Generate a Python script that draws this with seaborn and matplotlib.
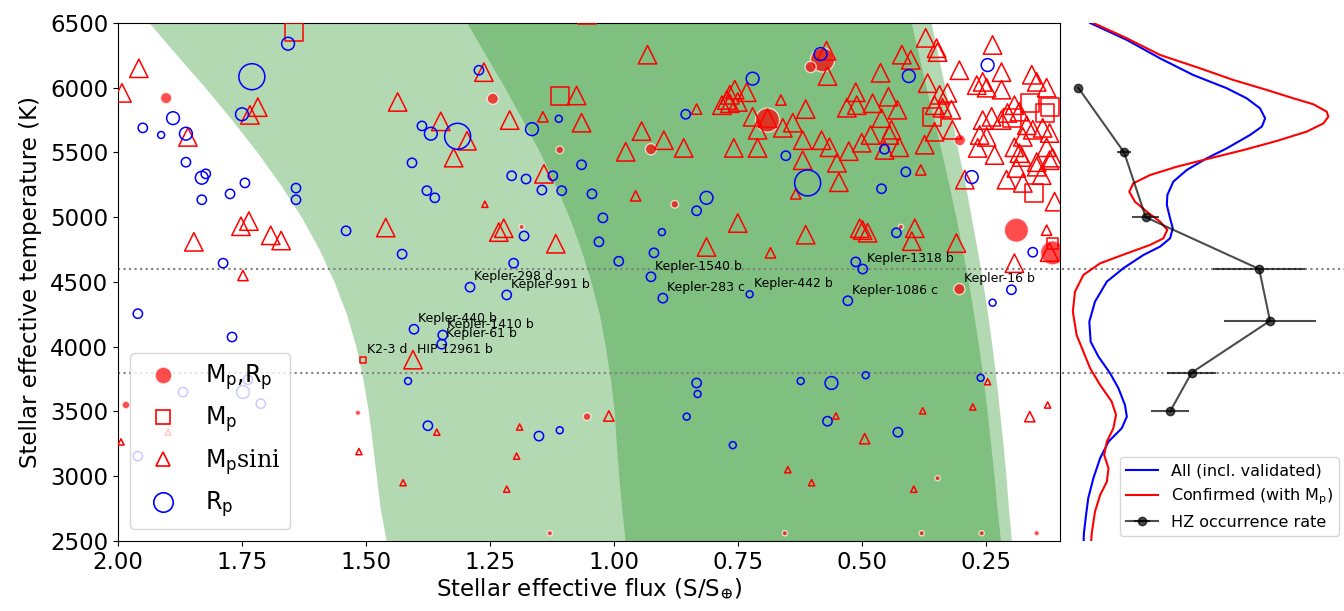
import matplotlib
matplotlib.use("Agg")
import matplotlib.pyplot as plt
from matplotlib.lines import Line2D
import seaborn as sns

# --- Habitable zone boundaries (flux vs Teff) ---
hz_teff = [2500, 2750, 3000, 3250, 3500, 3750, 4000, 4250, 4500,
           4750, 5000, 5250, 5500, 5750, 6000, 6250, 6500]
recent_venus = [1.459, 1.471, 1.479, 1.487, 1.495, 1.506, 1.520, 1.539, 1.564,
                1.594, 1.630, 1.672, 1.719, 1.770, 1.824, 1.881, 1.937]
runaway_gh = [0.977, 0.984, 0.990, 0.995, 0.999, 1.007, 1.017, 1.029, 1.046,
              1.066, 1.090, 1.118, 1.149, 1.184, 1.220, 1.258, 1.296]
max_gh = [0.220, 0.227, 0.233, 0.240, 0.247, 0.255, 0.264, 0.274, 0.285,
          0.297, 0.310, 0.324, 0.339, 0.354, 0.370, 0.385, 0.400]
early_mars = [0.198, 0.204, 0.209, 0.215, 0.222, 0.229, 0.237, 0.246, 0.256,
              0.267, 0.279, 0.291, 0.305, 0.318, 0.332, 0.346, 0.360]

# --- Planets with Mp sin i (open triangles) ---
tri_flux = [1.958, 1.992, 1.859, 1.847, 1.752, 1.736, 1.692, 1.671, 1.748, 1.734,
            1.718, 1.460, 1.436, 1.349, 1.994, 1.899, 1.405, 1.514, 1.425, 1.357,
            1.262, 1.075, 1.296, 1.323, 1.210, 1.143, 1.065, 0.944, 0.976, 1.141,
            0.956, 1.260, 1.232, 1.222, 1.117, 0.932, 0.571, 0.569, 0.462, 0.833,
            0.782, 0.766, 0.756, 0.732, 0.766, 0.750, 0.772, 0.663, 0.613, 0.690,
            0.720, 0.710, 0.659, 0.639, 0.530, 0.512, 0.510, 0.478, 0.446, 0.460,
            0.428, 0.619, 0.581, 0.565, 0.526, 0.500, 0.482, 0.444, 0.454, 0.550,
            0.619, 0.546, 0.899, 0.859, 0.758, 0.710, 0.633, 0.750, 0.613, 0.504,
            0.488, 0.498, 0.813, 0.684, 0.371, 0.349, 0.347, 0.419, 0.401, 0.367,
            0.440, 0.424, 0.373, 0.343, 0.327, 0.353, 0.337, 0.319, 0.353, 0.317,
            0.236, 0.303, 0.218, 0.268, 0.256, 0.248, 0.218, 0.157, 0.147, 0.127,
            0.192, 0.182, 0.206, 0.256, 0.238, 0.218, 0.262, 0.248, 0.266, 0.232,
            0.167, 0.155, 0.175, 0.135, 0.121, 0.182, 0.147, 0.115, 0.127, 0.192,
            0.208, 0.175, 0.188, 0.177, 0.147, 0.121, 0.137, 0.292, 0.111, 0.381,
            0.127, 0.121, 0.192, 0.393, 0.399, 0.309, 0.246, 0.377, 0.276, 0.161,
            0.125, 0.494, 0.395, 1.010, 0.552, 0.649, 0.601, 1.190, 1.196, 1.216]
tri_teff = [6150, 5960, 5620, 4810, 4930, 4970, 4860, 4820, 4550, 5790,
            5850, 4920, 5890, 5740, 3265, 3340, 3900, 3190, 2950, 3340,
            6120, 5940, 5590, 5460, 5750, 5775, 5730, 5665, 5505, 5335,
            5165, 5100, 4885, 4915, 4795, 6255, 6285, 6090, 6115, 5835,
            5865, 5945, 5985, 5965, 5880, 5890, 5905, 5905, 5835, 5765,
            5775, 5675, 5690, 5730, 5845, 5965, 5865, 5880, 5930, 5765,
            5830, 5595, 5595, 5540, 5510, 5575, 5635, 5635, 5520, 5420,
            5440, 5270, 5595, 5535, 5535, 5535, 5180, 4955, 4865, 4915,
            4880, 4900, 4770, 4725, 6385, 6305, 6275, 6255, 6215, 6035,
            5675, 5540, 5560, 5945, 5960, 5865, 5845, 5830, 5660, 5675,
            6330, 6135, 6120, 6020, 6045, 6000, 5985, 6100, 6045, 6000,
            5865, 5815, 5805, 5750, 5775, 5750, 5635, 5620, 5535, 5480,
            5710, 5675, 5620, 5690, 5650, 5495, 5425, 5460, 5540, 5540,
            5290, 5265, 5380, 5465, 5390, 5440, 5325, 5290, 5120, 5365,
            4900, 4730, 4645, 4915, 4815, 4800, 3730, 3505, 3535, 3460,
            3550, 3290, 2900, 3465, 3465, 3050, 2950, 3380, 3155, 2900]
tri_size = [3, 3, 3, 3, 3, 3, 3, 3, 2, 3,
            3, 3, 3, 3, 1, 1, 3, 1, 1, 1,
            3, 3, 3, 3, 3, 2, 3, 3, 3, 3,
            2, 1, 3, 3, 3, 3, 3, 3, 3, 2,
            3, 3, 3, 3, 3, 3, 3, 2, 3, 3,
            3, 3, 3, 3, 3, 3, 3, 3, 3, 3,
            3, 3, 3, 3, 3, 3, 3, 3, 3, 3,
            3, 3, 3, 3, 3, 3, 2, 3, 3, 3,
            3, 3, 3, 2, 3, 3, 3, 3, 3, 3,
            3, 3, 3, 3, 3, 3, 3, 3, 3, 3,
            3, 3, 3, 3, 3, 3, 3, 3, 3, 3,
            3, 3, 3, 3, 3, 3, 3, 3, 3, 3,
            3, 3, 3, 3, 3, 3, 3, 3, 3, 3,
            3, 3, 3, 3, 3, 3, 3, 3, 3, 2,
            2, 3, 3, 3, 3, 3, 1, 1, 1, 2,
            1, 2, 1, 2, 1, 1, 1, 1, 1, 1]

# --- Planets with Mp only (open squares) ---
sq_flux = [1.645, 1.054, 1.109, 1.506, 0.359, 0.161, 0.196, 0.121, 0.131, 0.153, 0.115]
sq_teff = [6430, 6560, 5935, 3900, 5775, 5880, 5765, 5850, 5805, 5185, 4800]
sq_size = [3, 3, 3, 1, 3, 3, 3, 3, 3, 3, 2]

# --- Planets with Mp and Rp (filled circles) ---
mr_flux = [1.903, 1.984, 1.516, 1.244, 1.109, 0.925, 1.186, 0.579, 0.603, 0.690,
           0.877, 0.302, 0.188, 0.115, 0.303, 0.421, 1.054, 0.347, 0.379, 0.258,
           0.147, 1.129, 0.655]
mr_teff = [5920, 3550, 3490, 5915, 5520, 5525, 4925, 6215, 6160, 5750,
           5100, 5595, 4900, 4725, 4445, 4925, 3460, 2985, 2560, 2560,
           2560, 2560, 2560]
mr_size = [3, 2, 1, 3, 2, 3, 1, 4, 3, 4,
           2, 3, 4, 4, 3, 1, 2, 1, 1, 1,
           1, 1, 1]

# --- Planets with Rp only (open blue circles) ---
rp_flux = [1.950, 1.913, 1.889, 1.863, 1.863, 1.831, 1.823, 1.831, 1.774, 1.744,
           1.788, 1.657, 1.730, 1.750, 1.641, 1.641, 1.540, 1.427, 1.387, 1.369,
           1.407, 1.377, 1.361, 1.960, 1.770, 1.960, 1.869, 1.748, 1.738, 1.712,
           1.403, 1.345, 1.347, 1.415, 1.375, 1.272, 1.315, 1.111, 1.165, 1.206,
           1.177, 1.123, 1.145, 1.105, 1.065, 1.044, 1.181, 1.022, 1.030, 0.990,
           1.202, 1.290, 1.216, 0.925, 0.583, 0.720, 0.855, 0.653, 0.454, 0.609,
           0.460, 0.813, 0.833, 0.903, 0.919, 0.512, 0.498, 0.430, 0.901, 0.726,
           0.528, 0.405, 0.246, 0.411, 0.278, 0.155, 0.198, 0.236, 0.492, 0.260,
           0.427, 0.833, 0.831, 0.623, 0.561, 0.853, 0.569, 0.760, 1.151, 1.109]
rp_teff = [5690, 5635, 5765, 5645, 5425, 5305, 5335, 5135, 5180, 5265,
           4645, 6340, 6085, 5795, 5225, 5135, 4895, 4715, 5705, 5645,
           5420, 5205, 5150, 4255, 4075, 3155, 3650, 3650, 3745, 3560,
           4135, 4090, 4020, 3735, 3390, 6135, 5625, 5760, 5680, 5320,
           5295, 5320, 5210, 5205, 5405, 5180, 4855, 4995, 4810, 4660,
           4645, 4460, 4400, 4540, 6260, 6070, 5795, 5475, 5525, 5265,
           5220, 5150, 5050, 4885, 4725, 4655, 4600, 4880, 4375, 4405,
           4355, 6090, 6175, 5350, 5310, 4730, 4440, 4340, 3780, 3760,
           3340, 3720, 3635, 3735, 3720, 3460, 3425, 3240, 3310, 3355]
rp_size = [2, 1, 3, 3, 2, 3, 2, 2, 2, 2,
           2, 3, 4, 3, 2, 2, 2, 2, 2, 3,
           2, 2, 2, 2, 2, 2, 2, 3, 2, 2,
           2, 2, 2, 1, 2, 2, 4, 1, 3, 2,
           2, 2, 2, 2, 2, 2, 2, 2, 2, 2,
           2, 2, 2, 2, 3, 3, 2, 2, 2, 4,
           2, 3, 2, 1, 2, 2, 2, 2, 2, 1,
           2, 3, 3, 2, 3, 2, 2, 1, 1, 1,
           2, 2, 1, 1, 3, 1, 2, 1, 2, 1]

# --- Named planets ---
label_names = ["Kepler-298 d", "Kepler-991 b", "Kepler-440 b", "Kepler-1410 b",
               "Kepler-61 b", "K2-3 d", "HIP 12961 b", "Kepler-1540 b",
               "Kepler-283 c", "Kepler-442 b", "Kepler-1318 b", "Kepler-1086 c",
               "Kepler-16 b"]
label_flux = [1.290, 1.216, 1.403, 1.345, 1.347, 1.506, 1.405, 0.925,
              0.901, 0.726, 0.498, 0.528, 0.303]
label_teff = [4460, 4400, 4135, 4090, 4020, 3900, 3900, 4540,
              4375, 4405, 4600, 4355, 4445]

# --- Side panel: Teff distributions and HZ occurrence rate ---
all_teff = [6500, 6369, 6227, 6098, 5996, 5918, 5841, 5764, 5700, 5635,
            5532, 5455, 5365, 5275, 5172, 5095, 4992, 4915, 4837, 4773,
            4708, 4606, 4503, 4348, 4193, 4039, 3923, 3795, 3679, 3550,
            3460, 3370, 3267, 3139, 2984, 2830, 2701, 2560, 2500]
all_dens = [0.104, 0.240, 0.363, 0.486, 0.610, 0.684, 0.733, 0.752, 0.740, 0.696,
            0.610, 0.536, 0.462, 0.412, 0.390, 0.388, 0.400, 0.410, 0.400, 0.363,
            0.301, 0.227, 0.166, 0.122, 0.101, 0.106, 0.135, 0.178, 0.209, 0.233,
            0.240, 0.221, 0.172, 0.141, 0.116, 0.097, 0.089, 0.081, 0.080]
conf_teff = [6500, 6382, 6253, 6150, 6060, 5983, 5918, 5872, 5815, 5777,
             5725, 5661, 5589, 5519, 5455, 5390, 5326, 5262, 5197, 5120,
             5043, 4966, 4902, 4837, 4786, 4721, 4644, 4554, 4425, 4271,
             4091, 3962, 3834, 3705, 3576, 3473, 3370, 3267, 3164, 3061,
             2958, 2855, 2726, 2560, 2500]
conf_dens = [0.116, 0.240, 0.363, 0.511, 0.634, 0.758, 0.857, 0.931, 0.980, 0.986,
             0.968, 0.906, 0.795, 0.672, 0.548, 0.425, 0.326, 0.264, 0.249, 0.270,
             0.314, 0.363, 0.390, 0.375, 0.326, 0.240, 0.141, 0.079, 0.048, 0.040,
             0.054, 0.079, 0.104, 0.141, 0.184, 0.200, 0.190, 0.166, 0.156, 0.172,
             0.166, 0.141, 0.122, 0.110, 0.108]
occ_teff = [6000, 5500, 5000, 4600, 4200, 3800, 3500]
occ_rate = [0.06, 0.23, 0.31, 0.73, 0.77, 0.48, 0.40]
occ_err = [0.0, 0.025, 0.05, 0.17, 0.17, 0.09, 0.07]

# --- Plot ---
plt.rcParams["font.family"] = ["DejaVu Sans"]
plt.rcParams["mathtext.fontset"] = "dejavuserif"

fig = plt.figure(figsize=(13.44, 6.11), dpi=100)
ax = fig.add_axes([0.0878, 0.1146, 0.7009, 0.8478])
axr = fig.add_axes([0.7902, 0.1146, 0.2098, 0.8478])

# habitable zone shading
ax.fill_betweenx(hz_teff, recent_venus, early_mars, color="#b3d9b3", lw=0, zorder=0)
ax.fill_betweenx(hz_teff, runaway_gh, max_gh, color="#7fbf7f", lw=0, zorder=0)

for a in (ax, axr):
    for t in (4600, 3800):
        a.axhline(t, color="gray", ls=":", lw=1.5, zorder=1)

sns.scatterplot(x=mr_flux, y=mr_teff, size=mr_size, sizes={1: 14, 2: 30, 3: 65, 4: 300},
                color="red", alpha=0.7, edgecolor="white", linewidth=1,
                legend=False, ax=ax, zorder=2)
sns.scatterplot(x=sq_flux, y=sq_teff, size=sq_size, sizes={1: 20, 2: 60, 3: 170},
                marker="s", color="red", facecolor="none", edgecolor="red",
                linewidth=1.1, legend=False, ax=ax, zorder=3)
sns.scatterplot(x=tri_flux, y=tri_teff, size=tri_size, sizes={1: 20, 2: 55, 3: 175},
                marker="^", color="red", facecolor="none", edgecolor="red",
                linewidth=1.1, legend=False, ax=ax, zorder=3)
sns.scatterplot(x=rp_flux, y=rp_teff, size=rp_size, sizes={1: 25, 2: 45, 3: 85, 4: 350},
                marker="o", color="blue", facecolor="none", edgecolor="blue",
                linewidth=1.1, legend=False, ax=ax, zorder=4)

for name, fx, ty in zip(label_names, label_flux, label_teff):
    ax.annotate(name, (fx, ty), xytext=(3, 3), textcoords="offset points",
                fontsize=9, ha="left", va="bottom", zorder=6)

ax.set_xlim(2.0, 0.1)
ax.set_ylim(2500, 6500)
ax.set_xticks([2.0, 1.75, 1.5, 1.25, 1.0, 0.75, 0.5, 0.25])
ax.set_xticklabels(["2.00", "1.75", "1.50", "1.25", "1.00", "0.75", "0.50", "0.25"])
ax.set_yticks(range(2500, 6501, 500))
ax.tick_params(labelsize=16.5)
ax.set_xlabel("Stellar effective flux (S/S$_{\\oplus}$)", fontsize=16.5, labelpad=2)
ax.set_ylabel("Stellar effective temperature (K)", fontsize=16.5, labelpad=6)

handles = [
    Line2D([], [], ls="none", marker="o", ms=12, mfc="red", mec="white", alpha=0.7),
    Line2D([], [], ls="none", marker="s", ms=10, mfc="none", mec="red", mew=1.2),
    Line2D([], [], ls="none", marker="^", ms=10, mfc="none", mec="red", mew=1.2),
    Line2D([], [], ls="none", marker="o", ms=14, mfc="none", mec="blue", mew=1.2),
]
labels = ["M$_\\mathsf{p}$,R$_\\mathsf{p}$", "M$_\\mathsf{p}$",
          "M$_\\mathsf{p}$$\\mathrm{sini}$", "R$_\\mathsf{p}$"]
leg = ax.legend(handles, labels, loc="lower left", fontsize=17)
leg.set_zorder(10)

# side panel
sns.lineplot(x=all_dens, y=all_teff, sort=False, estimator=None, color="blue",
             lw=1.5, ax=axr, label="All (incl. validated)")
sns.lineplot(x=conf_dens, y=conf_teff, sort=False, estimator=None, color="red",
             lw=1.5, ax=axr, label="Confirmed (with M$_\\mathsf{p}$)")
axr.errorbar(occ_rate, occ_teff, xerr=occ_err, fmt="o-", color="k", alpha=0.7,
             ms=6, lw=1.5, elinewidth=1.5, capsize=0, label="HZ occurrence rate")
axr.set_xlim(0, 1.044)
axr.set_ylim(2500, 6500)
axr.set_axis_off()
axr.legend(loc="lower right", fontsize=11.5, bbox_to_anchor=(1.0, 0.0), borderaxespad=0.3)

plt.savefig("out.png", dpi=100)
